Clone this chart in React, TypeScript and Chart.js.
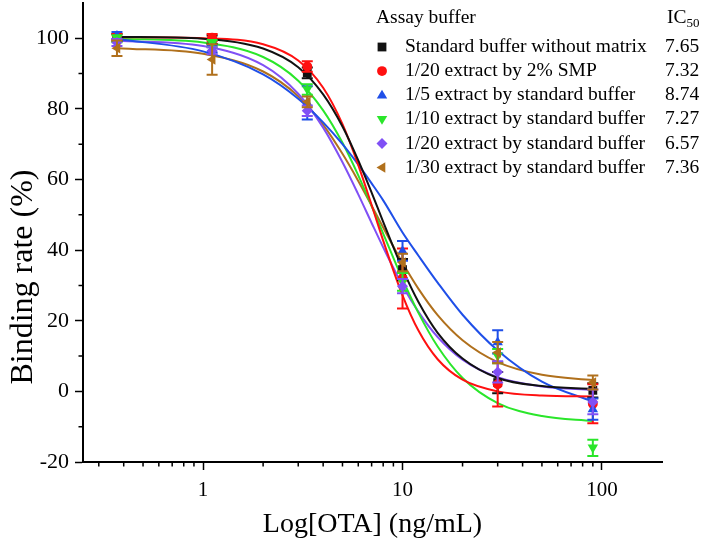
import React, { useEffect, useRef } from 'react';
import { Chart, registerables } from 'chart.js';

Chart.register(...registerables);

const FONT = '"Liberation Serif", "Times New Roman", serif';

// ---- data ----
const concentrations = [0.37, 1.11, 3.33, 10, 30, 90];
const curveX = [0.37, 1, 2, 3, 4, 5, 6, 7, 8, 10, 12, 15, 20, 30, 50, 90];

const seriesLabels = [
  'Standard buffer without matrix',
  '1/20 extract by 2% SMP',
  '1/5 extract by standard buffer',
  '1/10 extract by standard buffer',
  '1/20 extract by standard buffer',
  '1/30 extract by standard buffer',
];
const ic50Values = ['7.65', '7.32', '8.74', '7.27', '6.57', '7.36'];
const seriesColors = ['#111111', '#ff1010', '#1f4fe8', '#2ae62a', '#8050f5', '#b0701c'];

const standardMeans = [100.2, 99.6, 90.2, 34.5, 2.5, 0.3];
const standardErr = [1.0, 1.2, 1.5, 3.0, 3.0, 2.0];
const smpMeans = [100.4, 100.2, 92.0, 32.0, 2.0, -3.5];
const smpErr = [0.8, 1.0, 1.5, 8.5, 6.3, 5.5];
const dil5Means = [100.8, 97.0, 81.7, 39.8, 14.0, -5.0];
const dil5Err = [1.0, 1.0, 4.7, 2.8, 3.3, 3.0];
const dil10Means = [99.9, 98.5, 85.5, 31.0, 10.0, -16.0];
const dil10Err = [1.0, 1.0, 1.5, 2.5, 2.0, 2.3];
const dil20Means = [98.8, 96.5, 79.5, 29.8, 5.5, -3.0];
const dil20Err = [1.0, 1.0, 1.5, 2.0, 3.0, 3.5];
const dil30Means = [97.2, 94.0, 82.0, 36.5, 11.0, 2.5];
const dil30Err = [2.2, 4.3, 1.5, 2.5, 3.0, 2.0];

const standardCurve = [100.4, 99.9, 97.1, 91.8, 84.1, 75.0, 65.4, 56.3, 48.0, 34.7, 25.4, 16.6, 9.3, 3.8, 1.5, 0.7];
const smpCurve = [100.3, 100.0, 98.3, 93.7, 86.0, 75.7, 64.1, 52.8, 42.7, 27.2, 17.3, 9.1, 3.3, 0.0, -1.2, -1.45];
const dil5Curve = [99.8, 96.3, 89.8, 82.9, 76.2, 70.0, 64.2, 58.9, 54.1, 45.0, 38.5, 30.8, 21.7, 11.6, 2.75, -2.9];
const dil10Curve = [99.9, 98.8, 94.7, 88.0, 79.6, 70.4, 61.2, 52.5, 44.7, 31.8, 22.3, 12.7, 3.8, -3.3, -7.0, -8.4];
const dil20Curve = [99.3, 97.8, 92.4, 84.3, 74.7, 64.9, 55.8, 47.7, 40.8, 30.0, 22.6, 15.4, 9.0, 4.0, 1.4, 0.4];
const dil30Curve = [97.2, 95.6, 90.6, 83.6, 75.5, 67.3, 59.6, 52.6, 46.4, 36.4, 29.1, 21.6, 14.5, 8.3, 4.7, 3.2];

const allMeans = [standardMeans, smpMeans, dil5Means, dil10Means, dil20Means, dil30Means];
const allErrs = [standardErr, smpErr, dil5Err, dil10Err, dil20Err, dil30Err];
const allCurves = [standardCurve, smpCurve, dil5Curve, dil10Curve, dil20Curve, dil30Curve];

const xTickValues = [1, 10, 100];
const xTickLabels = ['1', '10', '100'];
const xMinorTicks = [0.3, 0.4, 0.5, 0.6, 0.7, 0.8, 0.9, 2, 3, 4, 5, 6, 7, 8, 9, 20, 30, 40, 50, 60, 70, 80, 90];
const yMinorTicks = [-10, 10, 30, 50, 70, 90];

const markerStyles = ['square', 'circle', 'up', 'down', 'diamond', 'left'];

function markerShape(ctx: CanvasRenderingContext2D, style: string, x: number, y: number, r: number) {
  ctx.beginPath();
  if (style === 'square') {
    ctx.rect(x - r * 0.8, y - r * 0.8, r * 1.6, r * 1.6);
  } else if (style === 'circle') {
    ctx.arc(x, y, r * 0.9, 0, Math.PI * 2);
  } else if (style === 'up') {
    ctx.moveTo(x, y - r);
    ctx.lineTo(x + r * 0.95, y + r * 0.6);
    ctx.lineTo(x - r * 0.95, y + r * 0.6);
  } else if (style === 'down') {
    ctx.moveTo(x, y + r);
    ctx.lineTo(x + r * 0.95, y - r * 0.6);
    ctx.lineTo(x - r * 0.95, y - r * 0.6);
  } else if (style === 'diamond') {
    ctx.moveTo(x, y - r);
    ctx.lineTo(x + r, y);
    ctx.lineTo(x, y + r);
    ctx.lineTo(x - r, y);
  } else {
    ctx.moveTo(x - r, y);
    ctx.lineTo(x + r * 0.6, y - r * 0.95);
    ctx.lineTo(x + r * 0.6, y + r * 0.95);
  }
  ctx.closePath();
  ctx.fill();
}

const decorPlugin = {
  id: 'decor',
  afterDatasetsDraw(chart: any) {
    const ctx: CanvasRenderingContext2D = chart.ctx;
    const xs = chart.scales.x;
    const ys = chart.scales.y;
    // error bars and markers
    allMeans.forEach((means, si) => {
      const errs = allErrs[si];
      ctx.save();
      ctx.strokeStyle = seriesColors[si];
      ctx.fillStyle = seriesColors[si];
      ctx.lineWidth = 2;
      means.forEach((m, i) => {
        const px = xs.getPixelForValue(concentrations[i]);
        const top = ys.getPixelForValue(m + errs[i]);
        const bot = ys.getPixelForValue(m - errs[i]);
        ctx.beginPath();
        ctx.moveTo(px, top);
        ctx.lineTo(px, bot);
        ctx.moveTo(px - 5.5, top);
        ctx.lineTo(px + 5.5, top);
        ctx.moveTo(px - 5.5, bot);
        ctx.lineTo(px + 5.5, bot);
        ctx.stroke();
        markerShape(ctx, markerStyles[si], px, ys.getPixelForValue(m), 5.5);
      });
      ctx.restore();
    });
  },
  afterDraw(chart: any) {
    const ctx: CanvasRenderingContext2D = chart.ctx;
    const xs = chart.scales.x;
    const ys = chart.scales.y;
    const area = chart.chartArea;
    ctx.save();
    ctx.strokeStyle = '#000';
    ctx.lineWidth = 1.5;
    ctx.beginPath();
    xMinorTicks.forEach((v) => {
      const px = xs.getPixelForValue(v);
      ctx.moveTo(px, area.bottom);
      ctx.lineTo(px, area.bottom + 4.5);
    });
    yMinorTicks.forEach((v) => {
      const py = ys.getPixelForValue(v);
      ctx.moveTo(area.left, py);
      ctx.lineTo(area.left - 4.5, py);
    });
    ctx.stroke();

    // y title
    ctx.fillStyle = '#000';
    ctx.save();
    ctx.translate(24, 277);
    ctx.rotate(-Math.PI / 2);
    ctx.font = `32px ${FONT}`;
    ctx.textAlign = 'center';
    ctx.textBaseline = 'middle';
    ctx.fillText('Binding rate (%)', 0, 0);
    ctx.restore();

    // legend
    ctx.font = `19.5px ${FONT}`;
    ctx.textBaseline = 'middle';
    ctx.textAlign = 'left';
    ctx.fillText('Assay buffer', 376, 18);
    ctx.fillText('IC', 667, 18);
    const icW = ctx.measureText('IC').width;
    ctx.font = `13px ${FONT}`;
    ctx.fillText('50', 667 + icW, 24);
    ctx.font = `19.5px ${FONT}`;
    seriesLabels.forEach((lab, i) => {
      const y = 47 + i * 24.1;
      ctx.fillStyle = seriesColors[i];
      markerShape(ctx, markerStyles[i], 382, y, 5.5);
      ctx.fillStyle = '#000';
      ctx.fillText(lab, 405, y);
      ctx.fillText(ic50Values[i], 665, y);
    });
    ctx.restore();
  },
};

export default function App() {
  const ref = useRef<HTMLCanvasElement>(null);
  useEffect(() => {
    document.body.style.margin = '0';
    const canvas = ref.current!;
    const datasets: any[] = allCurves.map((curve, si) => ({
      label: seriesLabels[si],
      data: curveX.map((x, j) => ({ x, y: curve[j] })),
      showLine: true,
      borderColor: seriesColors[si],
      borderWidth: 2,
      pointRadius: 0,
      cubicInterpolationMode: 'monotone',
      fill: false,
    }));
    const chart = new Chart(canvas, {
      type: 'scatter',
      data: { datasets },
      plugins: [decorPlugin],
      options: {
        animation: false,
        responsive: false,
        devicePixelRatio: 1,
        layout: { padding: { top: 3, right: 40, left: 0, bottom: 0 } },
        plugins: { legend: { display: false }, tooltip: { enabled: false } },
        scales: {
          x: {
            type: 'logarithmic',
            min: 0.25,
            max: 200,
            afterBuildTicks: (s: any) => {
              s.ticks = xTickValues.map((v) => ({ value: v }));
            },
            afterFit: (s: any) => {
              s.height = 87;
            },
            ticks: {
              autoSkip: false,
              maxRotation: 0,
              padding: 8,
              color: '#000',
              font: { family: FONT, size: 21 },
              callback: (_v: any, i: number) => xTickLabels[i],
            },
            grid: { drawOnChartArea: false, drawTicks: true, tickLength: 8, tickWidth: 1.5, tickColor: '#000' },
            border: { display: true, color: '#000', width: 2 },
            title: {
              display: true,
              text: 'Log[OTA] (ng/mL)',
              color: '#000',
              font: { family: FONT, size: 28 },
              padding: { top: 0, bottom: 8 },
            },
          },
          y: {
            type: 'linear',
            min: -20,
            max: 110,
            afterFit: (s: any) => {
              s.width = 83;
              s.paddingTop = 0;
              s.paddingBottom = 0;
            },
            ticks: {
              stepSize: 20,
              includeBounds: false,
              padding: 6,
              color: '#000',
              font: { family: FONT, size: 22 },
            },
            grid: { drawOnChartArea: false, drawTicks: true, tickLength: 8, tickWidth: 1.5, tickColor: '#000' },
            border: { display: true, color: '#000', width: 2 },
          },
        },
      },
    } as any);
    return () => chart.destroy();
  }, []);
  return (
    <div style={{ width: 702, height: 549, background: '#fff' }}>
      <canvas ref={ref} width={702} height={549} />
    </div>
  );
}
